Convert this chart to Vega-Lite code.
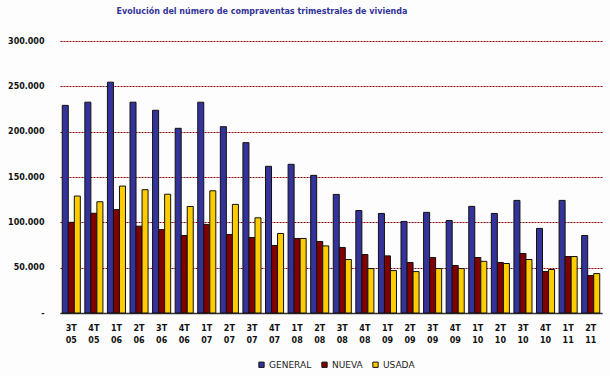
{
  "$schema": "https://vega.github.io/schema/vega-lite/v6.json",
  "autosize": "none",
  "width": 542,
  "height": 272,
  "padding": {"left": 60, "top": 41, "right": 8, "bottom": 63},
  "background": "#fcfdfc",
  "title": {
    "text": "Evolución del número de compraventas trimestrales de vivienda",
    "font": "DejaVu Sans",
    "fontSize": 8,
    "fontWeight": "bold",
    "color": "#333399",
    "anchor": "middle",
    "dx": -69,
    "offset": 21
  },
  "data": {
    "values": [
      {"t": "3T 05", "serie": "GENERAL", "v": 229000}, {"t": "3T 05", "serie": "NUEVA", "v": 100000}, {"t": "3T 05", "serie": "USADA", "v": 129000},
      {"t": "4T 05", "serie": "GENERAL", "v": 232500}, {"t": "4T 05", "serie": "NUEVA", "v": 110000}, {"t": "4T 05", "serie": "USADA", "v": 122700},
      {"t": "1T 06", "serie": "GENERAL", "v": 254600}, {"t": "1T 06", "serie": "NUEVA", "v": 114000}, {"t": "1T 06", "serie": "USADA", "v": 140000},
      {"t": "2T 06", "serie": "GENERAL", "v": 232500}, {"t": "2T 06", "serie": "NUEVA", "v": 95800}, {"t": "2T 06", "serie": "USADA", "v": 136000},
      {"t": "3T 06", "serie": "GENERAL", "v": 223600}, {"t": "3T 06", "serie": "NUEVA", "v": 92000}, {"t": "3T 06", "serie": "USADA", "v": 131000},
      {"t": "4T 06", "serie": "GENERAL", "v": 203700}, {"t": "4T 06", "serie": "NUEVA", "v": 85500}, {"t": "4T 06", "serie": "USADA", "v": 117500},
      {"t": "1T 07", "serie": "GENERAL", "v": 232500}, {"t": "1T 07", "serie": "NUEVA", "v": 97700}, {"t": "1T 07", "serie": "USADA", "v": 134800},
      {"t": "2T 07", "serie": "GENERAL", "v": 205500}, {"t": "2T 07", "serie": "NUEVA", "v": 86600}, {"t": "2T 07", "serie": "USADA", "v": 119800},
      {"t": "3T 07", "serie": "GENERAL", "v": 187900}, {"t": "3T 07", "serie": "NUEVA", "v": 83300}, {"t": "3T 07", "serie": "USADA", "v": 105000},
      {"t": "4T 07", "serie": "GENERAL", "v": 161800}, {"t": "4T 07", "serie": "NUEVA", "v": 74500}, {"t": "4T 07", "serie": "USADA", "v": 87700},
      {"t": "1T 08", "serie": "GENERAL", "v": 164000}, {"t": "1T 08", "serie": "NUEVA", "v": 82200}, {"t": "1T 08", "serie": "USADA", "v": 82200},
      {"t": "2T 08", "serie": "GENERAL", "v": 151800}, {"t": "2T 08", "serie": "NUEVA", "v": 78900}, {"t": "2T 08", "serie": "USADA", "v": 74000},
      {"t": "3T 08", "serie": "GENERAL", "v": 130800}, {"t": "3T 08", "serie": "NUEVA", "v": 72300}, {"t": "3T 08", "serie": "USADA", "v": 59000},
      {"t": "4T 08", "serie": "GENERAL", "v": 113000}, {"t": "4T 08", "serie": "NUEVA", "v": 64500}, {"t": "4T 08", "serie": "USADA", "v": 49000},
      {"t": "1T 09", "serie": "GENERAL", "v": 109800}, {"t": "1T 09", "serie": "NUEVA", "v": 63000}, {"t": "1T 09", "serie": "USADA", "v": 46800},
      {"t": "2T 09", "serie": "GENERAL", "v": 101000}, {"t": "2T 09", "serie": "NUEVA", "v": 55700}, {"t": "2T 09", "serie": "USADA", "v": 45700},
      {"t": "3T 09", "serie": "GENERAL", "v": 111000}, {"t": "3T 09", "serie": "NUEVA", "v": 61200}, {"t": "3T 09", "serie": "USADA", "v": 49000},
      {"t": "4T 09", "serie": "GENERAL", "v": 102000}, {"t": "4T 09", "serie": "NUEVA", "v": 52400}, {"t": "4T 09", "serie": "USADA", "v": 49000},
      {"t": "1T 10", "serie": "GENERAL", "v": 117600}, {"t": "1T 10", "serie": "NUEVA", "v": 61200}, {"t": "1T 10", "serie": "USADA", "v": 57000},
      {"t": "2T 10", "serie": "GENERAL", "v": 109800}, {"t": "2T 10", "serie": "NUEVA", "v": 55700}, {"t": "2T 10", "serie": "USADA", "v": 54600},
      {"t": "3T 10", "serie": "GENERAL", "v": 124200}, {"t": "3T 10", "serie": "NUEVA", "v": 65600}, {"t": "3T 10", "serie": "USADA", "v": 59000},
      {"t": "4T 10", "serie": "GENERAL", "v": 93300}, {"t": "4T 10", "serie": "NUEVA", "v": 45700}, {"t": "4T 10", "serie": "USADA", "v": 48000},
      {"t": "1T 11", "serie": "GENERAL", "v": 124200}, {"t": "1T 11", "serie": "NUEVA", "v": 62300}, {"t": "1T 11", "serie": "USADA", "v": 62300},
      {"t": "2T 11", "serie": "GENERAL", "v": 85500}, {"t": "2T 11", "serie": "NUEVA", "v": 41300}, {"t": "2T 11", "serie": "USADA", "v": 43500}
    ]
  },
  "mark": {"type": "bar", "stroke": "#111111", "strokeWidth": 1},
  "encoding": {
    "x": {
      "field": "t",
      "type": "nominal",
      "sort": null,
      "scale": {"paddingInner": 0.2, "paddingOuter": 0.1},
      "axis": {
        "title": null,
        "labelAngle": 0,
        "labelExpr": "split(datum.label, ' ')",
        "labelFont": "DejaVu Sans",
        "labelFontSize": 8,
        "labelFontWeight": "bold",
        "labelColor": "#111111",
        "labelLineHeight": 12,
        "labelPadding": 11,
        "ticks": false,
        "domainColor": "#333333",
        "domainWidth": 1.5,
        "grid": false
      }
    },
    "xOffset": {"field": "serie", "type": "nominal", "sort": ["GENERAL", "NUEVA", "USADA"]},
    "y": {
      "field": "v",
      "type": "quantitative",
      "scale": {"domain": [0, 300000], "nice": false},
      "axis": {
        "title": null,
        "values": [0, 50000, 100000, 150000, 200000, 250000, 300000],
        "labelExpr": "datum.value == 0 ? '-' : format(datum.value / 1000, 'd') + '.000'",
        "labelFont": "DejaVu Sans",
        "labelFontSize": 8,
        "labelFontWeight": "bold",
        "labelColor": "#111111",
        "labelPadding": 16,
        "ticks": false,
        "domain": false,
        "grid": true,
        "gridColor": "#8b0000",
        "gridDash": [2, 1],
        "gridWidth": 1
      }
    },
    "color": {
      "field": "serie",
      "type": "nominal",
      "sort": ["GENERAL", "NUEVA", "USADA"],
      "scale": {"domain": ["GENERAL", "NUEVA", "USADA"], "range": ["#333399", "#800000", "#ffcc00"]},
      "legend": {
        "title": null,
        "orient": "none",
        "direction": "horizontal",
        "legendX": 197,
        "legendY": 319,
        "symbolType": "square",
        "symbolSize": 28,
        "symbolStrokeColor": "#111111",
        "symbolStrokeWidth": 1,
        "labelFont": "DejaVu Sans",
        "labelFontSize": 9,
        "labelColor": "#222222",
        "columnPadding": 7,
        "symbolOffset": 0,
        "labelOffset": 3
      }
    }
  },
  "config": {"view": {"stroke": null}}
}
